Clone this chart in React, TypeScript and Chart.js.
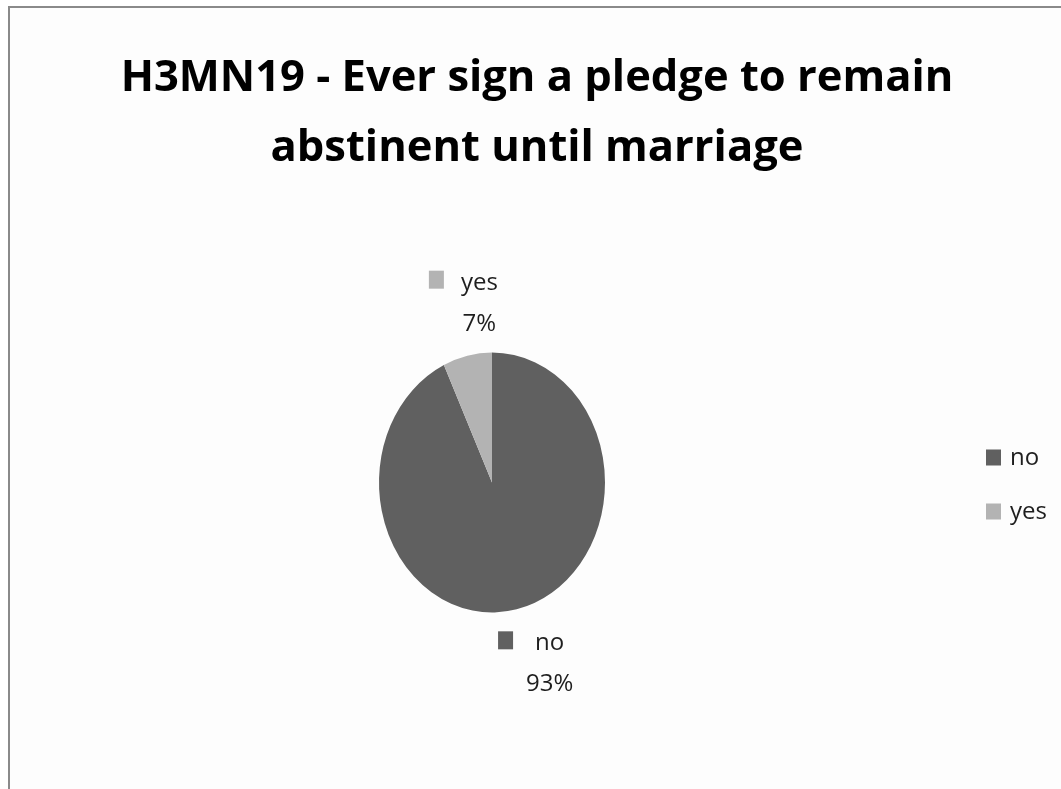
import React, { useEffect, useRef } from 'react';
import { Chart, registerables, layouts } from 'chart.js';

Chart.register(...registerables);

// ---- data ----
const categories: string[] = ['no', 'yes'];
const percentages: number[] = [93, 7];
const sliceColors: string[] = ['#606060', '#b3b3b3'];
const titleLines: string[] = ['H3MN19 - Ever sign a pledge to remain', 'abstinent until marriage'];

const FONT = '"Open Sans", sans-serif';
const Y_STRETCH = 1.15;
const LABEL_SIZE = 24;
const TEXT_COLOR = '#1e1e1e';

const stretchPlugin = {
  id: 'stretchPie',
  beforeDatasetsDraw(chart: any) {
    const arc = chart.getDatasetMeta(0).data[0];
    if (!arc) return;
    const { x, y } = arc.getProps(['x', 'y'], true);
    const ctx = chart.ctx;
    ctx.save();
    ctx.translate(x, y);
    ctx.scale(1, Y_STRETCH);
    ctx.translate(-x, -y);
  },
  afterDatasetsDraw(chart: any) {
    chart.ctx.restore();
  },
};

const sliceLabelPlugin = {
  id: 'sliceLabels',
  afterDraw(chart: any) {
    const ctx = chart.ctx;
    const meta = chart.getDatasetMeta(0);
    const ds = chart.data.datasets[0];
    const total = ds.data.reduce((a: number, b: number) => a + b, 0);
    ctx.save();
    meta.data.forEach((arc: any, i: number) => {
      const p = arc.getProps(['x', 'y', 'startAngle', 'endAngle', 'outerRadius'], true);
      const mid = (p.startAngle + p.endAngle) / 2;
      const ax = p.x + Math.cos(mid) * p.outerRadius;
      const ay = p.y + Math.sin(mid) * p.outerRadius * Y_STRETCH;
      const down = Math.sin(mid) > 0;
      const cx = ax + (down ? 33 : 12);
      const cy = ay + (down ? 54 : -53);
      const l1 = cy - 20;
      const l2 = cy + 21;
      const label = chart.data.labels[i];
      ctx.font = `${LABEL_SIZE}px ${FONT}`;
      ctx.textAlign = 'center';
      ctx.textBaseline = 'middle';
      ctx.fillStyle = TEXT_COLOR;
      ctx.fillText(label, cx, l1);
      const w = ctx.measureText(label).width;
      ctx.fillText(`${Math.round((ds.data[i] / total) * 100)}%`, cx, l2);
      ctx.fillStyle = ds.backgroundColor[i];
      const gap = down ? 22 : 17;
      ctx.fillRect(cx - w / 2 - gap - 15, l1 - 12, 15, 18);
    });
    ctx.restore();
  },
};

// A right-hand legend box that takes part in Chart.js layout (beside the chart area only)
function makeSideLegend(chart: any) {
  const box: any = {
    position: 'right',
    fullSize: false,
    weight: 1000,
    options: {},
    left: 0,
    top: 0,
    right: 0,
    bottom: 0,
    width: 0,
    height: 0,
    isHorizontal() {
      return false;
    },
    update(maxWidth: number, maxHeight: number) {
      this.width = 90;
      this.height = maxHeight;
    },
    draw() {
      const ctx = chart.ctx;
      const ds = chart.data.datasets[0];
      const labels: string[] = chart.data.labels;
      const midY = (this.top + this.bottom) / 2 + 3;
      const step = 54;
      const x0 = this.left + 15;
      ctx.save();
      ctx.font = `${LABEL_SIZE}px ${FONT}`;
      ctx.textAlign = 'left';
      ctx.textBaseline = 'middle';
      labels.forEach((lab, i) => {
        const y = midY + (i - (labels.length - 1) / 2) * step;
        ctx.fillStyle = ds.backgroundColor[i];
        ctx.fillRect(x0, y - 9, 15, 16);
        ctx.fillStyle = TEXT_COLOR;
        ctx.fillText(lab, x0 + 24, y);
      });
      ctx.restore();
    },
  };
  return box;
}

const sideLegendPlugin = {
  id: 'sideLegend',
  beforeInit(chart: any) {
    layouts.addBox(chart, makeSideLegend(chart));
  },
};

export default function App() {
  const ref = useRef<HTMLCanvasElement | null>(null);

  useEffect(() => {
    if (!ref.current) return;
    const chart = new Chart(ref.current, {
      type: 'pie',
      data: {
        labels: categories,
        datasets: [
          {
            data: percentages,
            backgroundColor: sliceColors,
            borderWidth: 0,
            radius: 113,
          } as any,
        ],
      },
      options: {
        responsive: false,
        animation: false,
        layout: { padding: { left: 3, right: 0, bottom: 20, top: 0 } },
        plugins: {
          legend: { display: false },
          tooltip: { enabled: false },
          title: {
            display: true,
            text: titleLines,
            color: '#000000',
            font: { family: FONT, size: 43.5, weight: 'bold', lineHeight: 70 / 43.5 },
            padding: { top: 36, bottom: 12 },
          },
        },
      } as any,
      plugins: [stretchPlugin, sliceLabelPlugin, sideLegendPlugin],
    });
    return () => chart.destroy();
  }, []);

  return (
    <div
      style={{
        position: 'absolute',
        left: 8,
        top: 6,
        width: 1053,
        height: 783,
        boxSizing: 'border-box',
        borderTop: '2px solid #8a8a8a',
        borderLeft: '2px solid #8a8a8a',
        background: '#fdfdfd',
        overflow: 'hidden',
      }}
    >
      <canvas ref={ref} width={1051} height={781} style={{ display: 'block' }} />
    </div>
  );
}
